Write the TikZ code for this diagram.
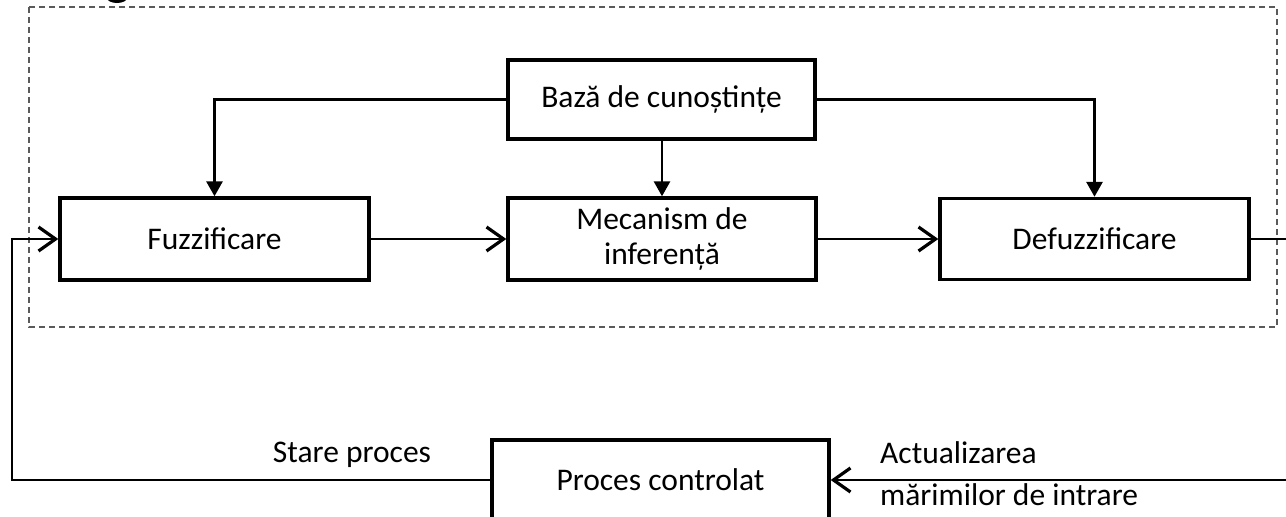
\documentclass[tikz,border=0pt]{standalone}
\usepackage{fontspec}
\setmainfont{Carlito}
\usetikzlibrary{arrows.meta,calc}
\definecolor{dashgray}{HTML}{5A5A5A}
\tikzset{
  blk/.style={draw=black,line width=3.4pt,fill=white,minimum width=#1,inner sep=0pt,align=center,font=\fontsize{31.5}{35}\selectfont},
  conn/.style={line width=2.9pt,draw=black},
  open/.style={conn,-{Straight Barb[length=17pt,width=24pt,line width=3.2pt]}},
  tri/.style={conn,-{Triangle[length=15pt,width=16pt]}},
  lbl/.style={font=\fontsize{31.5}{42}\selectfont,inner sep=0pt}
}
\begin{document}
\begin{tikzpicture}[x=1pt,y=-1pt]
\useasboundingbox (0,0) rectangle (1286,517);
\clip (0,0) rectangle (1286,517);
% cropped glyph fragment at top
\fill[black] (117,-2) ellipse (10 and 5);
% dashed frame
\draw[dashgray,line width=1.6pt,dash pattern=on 6pt off 4pt] (29,7) rectangle (1277,327);
% boxes
\node[blk=307pt,minimum height=79pt] (kb) at (661.5,99.5) {Bază de cunoștințe};
\node[blk=309pt,minimum height=82pt] (fz) at (214.5,239) {Fuzzificare};
\node[blk=308pt,minimum height=82pt] (inf) at (662,239) {Mecanism de\\inferență};
\node[blk=309pt,minimum height=81pt] (dfz) at (1094.5,239) {Defuzzificare};
\node[blk=337pt,minimum height=80pt] (pc) at (660.5,480) {Proces controlat};
% free ends
\coordinate (outR) at (1290,239);
\coordinate (inR) at (1290,480);
\coordinate (fbk) at (12,239);
% connectors
\draw[tri] (kb.west) -| (fz.north);
\draw[tri] (kb.east) -| (dfz.north);
\draw[tri] (kb.south -| inf.north) -- (inf.north);
\draw[open] (fz.east) -- (inf.west);
\draw[open] (inf.east) -- (dfz.west);
\draw[conn] (dfz.east) -- (outR);
\draw[open] (inR) -- (pc.east);
\draw[open] (pc.west) -| (fbk) -- (fz.west);
% labels
\node[lbl] (sp) at (352,455) {Stare proces};
\node[lbl,anchor=west,align=left] (act) at (880,474) {Actualizarea\\mărimilor de intrare};
\end{tikzpicture}
\end{document}
